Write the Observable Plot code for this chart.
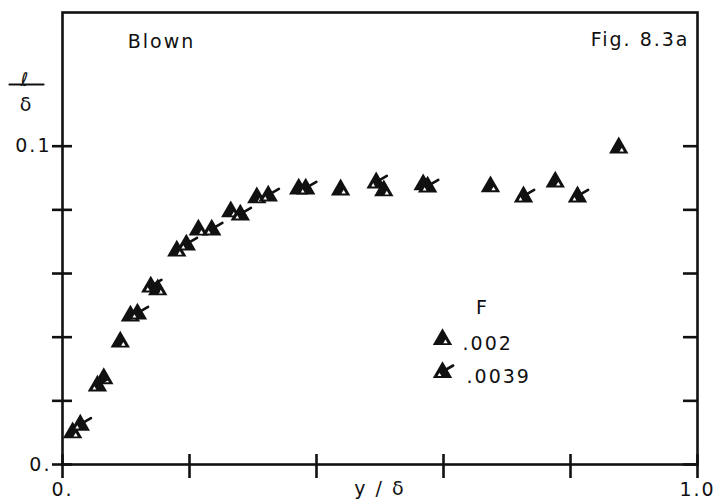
<!DOCTYPE html>
<html>
<head>
<meta charset="utf-8">
<script src="https://cdn.jsdelivr.net/npm/d3@7"></script>
<script src="https://cdn.jsdelivr.net/npm/@observablehq/plot@0.6"></script>
<style>
  html, body { margin: 0; padding: 0; background: #fff; }
  #chart svg { display: block; }
</style>
</head>
<body>
<div id="chart"></div>
<script>
// ---- data ----
const seriesNames = [".002", ".0039"];
const s002X = [0.016, 0.065, 0.091, 0.107, 0.150, 0.180, 0.214, 0.265, 0.306, 0.372, 0.438, 0.506, 0.568, 0.674, 0.776, 0.876];
const s002Y = [0.0100, 0.0270, 0.0385, 0.0467, 0.0549, 0.0671, 0.0737, 0.0794, 0.0838, 0.0866, 0.0863, 0.0860, 0.0879, 0.0873, 0.0888, 0.0995];
const s0039X = [0.028, 0.055, 0.118, 0.139, 0.195, 0.235, 0.280, 0.324, 0.383, 0.494, 0.575, 0.726, 0.811];
const s0039Y = [0.0124, 0.0247, 0.0473, 0.0558, 0.0690, 0.0737, 0.0784, 0.0844, 0.0866, 0.0885, 0.0872, 0.0841, 0.0841];

const yTicks = [0, 0.02, 0.04, 0.06, 0.08, 0.1];
const yTickLabels = ["0.", "", "", "", "", "0.1"];
const xTicks = [0, 0.2, 0.4, 0.6, 0.8, 1.0];
const xTickLabels = ["0.", "", "", "", "", "1.0"];

const panelTitle = "Blown";
const figLabel = "Fig. 8.3a";
const legendTitle = "F";
const xLabel = "y / δ";
const yLabelTop = "ℓ";
const yLabelBottom = "δ";

// ---- build tables ----
const d002 = s002X.map((x, i) => ({x, y: s002Y[i]}));
const d0039 = s0039X.map((x, i) => ({x, y: s0039Y[i]}));

const ink = "#111";
const lineShape = {draw(context, l) { context.moveTo(0, 0); context.lineTo(0, -l); }};

function marks002(data, opts) {
  return [
    Plot.dot(data, {...opts, symbol: "triangle", r: 7.2, fill: ink}),
    Plot.dot(data, {...opts, symbol: "triangle", r: 1.6, fill: "white", dx: (opts.dx || 0) + 3, dy: (opts.dy || 0) + 2.5})
  ];
}
function marks0039(data, opts) {
  return [
    Plot.dot(data, {...opts, symbol: "triangle", r: 7.2, fill: ink}),
    Plot.dot(data, {...opts, symbol: "triangle", r: 1.4, fill: "white", dx: (opts.dx || 0) - 3, dy: (opts.dy || 0) + 2.5}),
    Plot.vector(data, {...opts, length: 10, rotate: 60, anchor: "start", shape: lineShape,
      stroke: ink, strokeWidth: 2.6, dx: (opts.dx || 0) + 2, dy: (opts.dy || 0) - 2})
  ];
}

const yFmt = d => yTickLabels[yTicks.indexOf(d)] ?? "";
const xFmt = d => xTickLabels[xTicks.indexOf(d)] ?? "";

const chart = Plot.plot({
  width: 717,
  height: 504,
  marginLeft: 62,
  marginRight: 20,
  marginTop: 12,
  marginBottom: 40,
  x: {domain: [0, 1]},
  y: {domain: [0, 0.142]},
  style: {fontFamily: "DejaVu Sans", fontSize: "19px", color: ink, background: "white", letterSpacing: "2px"},
  marks: [
    Plot.frame({stroke: ink, strokeWidth: 2.6}),
    Plot.axisY(yTicks, {anchor: "left", tickSize: 20, insetLeft: 10, tickPadding: 1, tickFormat: yFmt, strokeWidth: 2.6, label: null, fontSize: 19}),
    Plot.axisY(yTicks, {anchor: "right", tickSize: 15, insetRight: 15, tickFormat: () => "", strokeWidth: 2.6, label: null}),
    Plot.axisX(xTicks, {anchor: "bottom", tickSize: 24, insetBottom: 10, tickPadding: 4, tickFormat: xFmt, strokeWidth: 2.6, label: null, fontSize: 19}),
    // texts
    Plot.text([panelTitle], {frameAnchor: "top-left", text: d => d, dx: 99, dy: 22, textAnchor: "middle", fontSize: 19, fill: ink}),
    Plot.text([figLabel], {frameAnchor: "top-right", text: d => d, dx: -8, dy: 20, textAnchor: "end", fontSize: 19, fill: ink}),
    Plot.text([xLabel], {frameAnchor: "bottom", text: d => d, dy: 30, textAnchor: "middle", fontSize: 19, fill: ink}),
    Plot.text([yLabelTop], {frameAnchor: "top-left", text: d => d, dx: -37, dy: 60, textAnchor: "middle", fontSize: 19, fill: ink}),
    Plot.vector([yLabelTop], {frameAnchor: "top-left", dx: -36, dy: 72, length: 34, rotate: 90, anchor: "middle", shape: lineShape, stroke: ink, strokeWidth: 2.2}),
    Plot.text([yLabelBottom], {frameAnchor: "top-left", text: d => d, dx: -36, dy: 85, textAnchor: "middle", fontSize: 19, fill: ink}),
    // data
    ...marks002(d002, {x: "x", y: "y"}),
    ...marks0039(d0039, {x: "x", y: "y"}),
    // legend
    Plot.text([legendTitle], {frameAnchor: "top-left", text: d => d, dx: 420, dy: 288, textAnchor: "middle", fontSize: 19, fill: ink}),
    ...marks002([seriesNames[0]], {frameAnchor: "top-left", dx: 380, dy: 327}),
    Plot.text([seriesNames[0]], {frameAnchor: "top-left", text: d => d, dx: 400, dy: 324, textAnchor: "start", fontSize: 19, fill: ink}),
    ...marks0039([seriesNames[1]], {frameAnchor: "top-left", dx: 380, dy: 360}),
    Plot.text([seriesNames[1]], {frameAnchor: "top-left", text: d => d, dx: 404, dy: 357, textAnchor: "start", fontSize: 19, fill: ink})
  ]
});
document.getElementById("chart").appendChild(chart);
</script>
</body>
</html>
